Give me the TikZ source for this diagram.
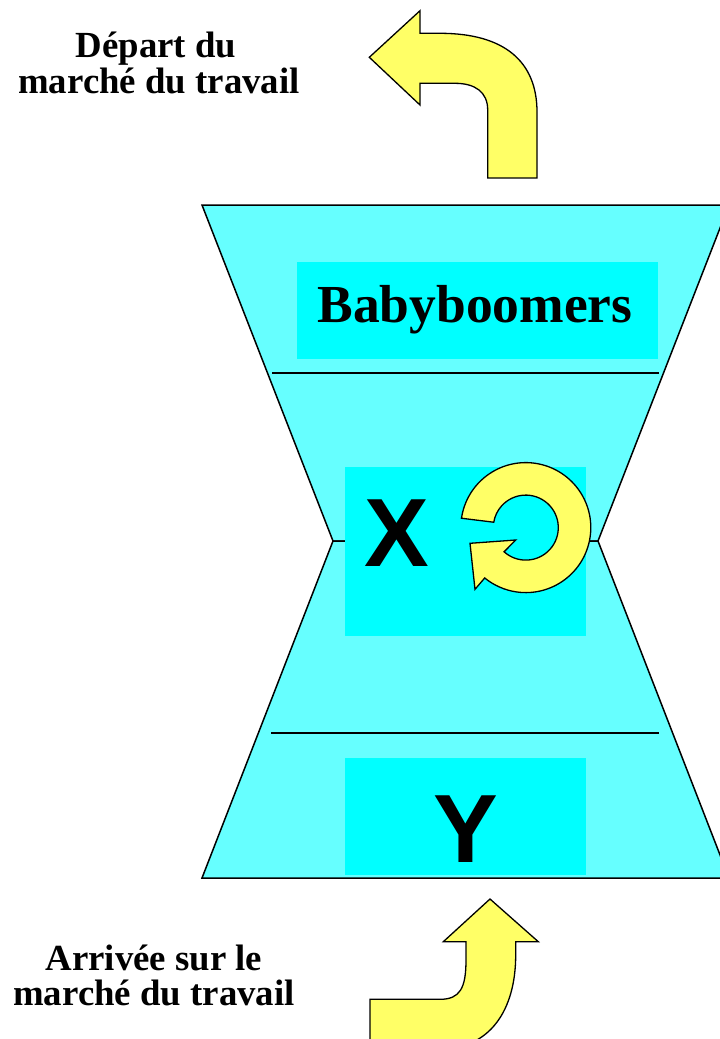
\documentclass[tikz,border=0pt]{standalone}
\usepackage{fontspec}
\setmainfont{Liberation Serif}
\newfontfamily\arialfont{Liberation Sans}
\usetikzlibrary{calc}
\definecolor{lcyan}{HTML}{66FFFF}
\definecolor{bcyan}{HTML}{00FFFF}
\definecolor{ayellow}{HTML}{FFFF66}
\begin{document}
\begin{tikzpicture}[x=1pt,y=-1pt,
  trap/.style={fill=lcyan,draw=black,line width=1.5pt,line join=miter},
  sepline/.style={draw=black,line width=1.5pt},
  cbox/.style={fill=bcyan,draw=none,inner sep=0pt},
  yarrow/.style={fill=ayellow,draw=black,line width=1.3pt,line join=miter},
  lbl/.style={font=\fontsize{36.8}{36.8}\selectfont\bfseries,inner sep=0pt,anchor=base},
  bigsans/.style={font=\arialfont\fontsize{97}{97}\selectfont\bfseries,inner sep=0pt,anchor=base},
  bigserif/.style={font=\fontsize{53.5}{53.5}\selectfont\bfseries,inner sep=0pt,anchor=base}]
\clip (0,0) rectangle (720,1039);
% hourglass
\filldraw[trap] (202,205) -- (729,205) -- (598,541) -- (333,541) -- cycle;
\filldraw[trap] (333,541) -- (598,541) -- (729,878) -- (202,878) -- cycle;
\draw[sepline] (272,373) -- (659,373);
\draw[sepline] (271,733) -- (659,733);
% boxes
\node[cbox,minimum width=361pt,minimum height=97pt] (bbbox) at (477.5,310.5) {};
\node[cbox,minimum width=241pt,minimum height=169pt] (xbox) at (465.5,551.5) {};
\node[cbox,minimum width=241pt,minimum height=117pt] (ybox) at (465.5,816.5) {};
\node[bigserif] (bbtext) at (475,322) {Babyboomers};
\node[bigsans] (xtext) at (397,566.7) {X};
\node[bigsans] (ytext) at (465.5,862.5) {Y};
% circular arrow
\coordinate (cc) at (525.8,527.6);
\filldraw[yarrow] ($(cc)+(-171.7:65)$) arc[start angle=-171.7,end angle=129.2,radius=65]
  -- (475,589.3) -- (470,543.3) -- (515.7,540)
  -- ($(cc)+(131.9:32.5)$) arc[start angle=131.9,end angle=-170.5,radius=32.5] -- cycle;
% top arrow (departure)
\filldraw[yarrow] (369.3,57.3) -- (420,10.7) -- (420,33.3) -- (440,33.3)
  .. controls (505,33.3) and (537,62) .. (537,112) -- (537,178) -- (487.7,178) -- (487.7,110)
  .. controls (487.7,92) and (475,83.3) .. (455,83.3) -- (420,83.3) -- (420,105) -- cycle;
% bottom arrow (arrival)
\filldraw[yarrow] (490,899) -- (538.3,941.7) -- (515.7,941.7) -- (515.7,955)
  .. controls (515.7,1010) and (490,1049) .. (440,1049) -- (370,1049) -- (370,999.3) -- (440,999.3)
  .. controls (460,999.3) and (466,988) .. (466,960) -- (466,941.7) -- (443.3,941.7) -- cycle;
% labels
\node[lbl] (dep1) at (156,57) {Départ du};
\node[lbl] (dep2) at (159,93) {marché du travail};
\node[lbl] (arr1) at (154,970.5) {Arrivée sur le};
\node[lbl] (arr2) at (154,1005) {marché du travail};
\end{tikzpicture}
\end{document}
